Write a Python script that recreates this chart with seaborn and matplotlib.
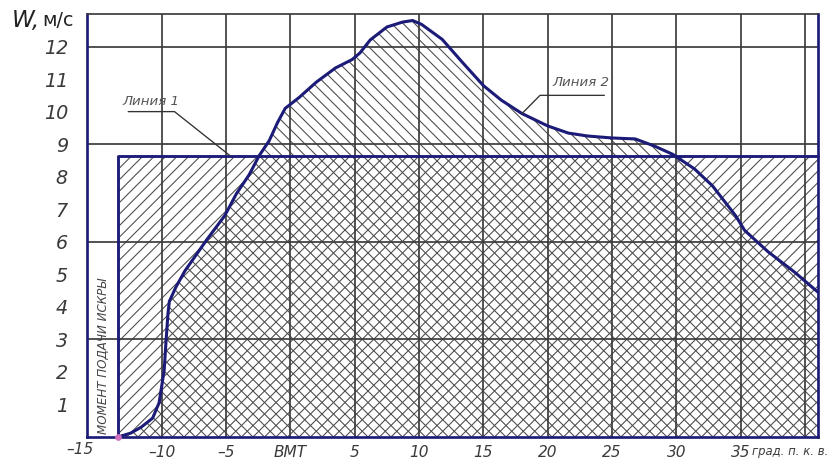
import matplotlib
matplotlib.use("Agg")
import matplotlib.pyplot as plt
import seaborn as sns

# crank angle (deg) and speed W (m/s)
angle = [-13.4, -12.4, -11.6, -10.7, -10.2, -10.0, -9.8, -9.65, -9.5, -9.4, -8.9, -8.2,
         -6.5, -5.1, -4.2, -3.2, -2.4, -1.65, -1.0, -0.4, 0.7, 2.0, 3.5, 4.8, 5.4,
         6.2, 7.5, 8.7, 9.5, 10.2, 11.8, 13.4, 15.0, 16.4, 18.0, 20.0, 21.6, 23.1,
         25.0, 26.8, 28.3, 29.7, 31.4, 32.8, 34.6, 35.3, 37.1, 39.2, 41.0]
speed = [0.0, 0.12, 0.3, 0.58, 1.05, 1.55, 2.07, 3.0, 3.83, 4.17, 4.6, 5.1,
         6.06, 6.8, 7.47, 8.06, 8.66, 9.1, 9.66, 10.1, 10.44, 10.9, 11.34, 11.6, 11.8,
         12.2, 12.6, 12.75, 12.8, 12.68, 12.22, 11.5, 10.8, 10.35, 9.94, 9.56, 9.34, 9.25,
         9.19, 9.16, 8.94, 8.69, 8.24, 7.72, 6.8, 6.35, 5.7, 5.06, 4.45]

spark_angle = -13.4   # момент подачи искры
line1_level = 8.65    # Линия 1

xticks = [-10, -5, 0, 5, 10, 15, 20, 25, 30, 35]
xlabels = ["–10", "–5", "ВМТ", "5", "10", "15", "20", "25", "30", "35"]
yticks = list(range(1, 13))

navy = "#1c1c78"
txt = "#3a3a3a"
xmin, xmax = -15.8, 41.0

sns.set_theme(style="white")
plt.rcParams["font.family"] = ["DejaVu Sans"]
plt.rcParams["hatch.linewidth"] = 0.55

dpi = 138
fig = plt.figure(figsize=(831 / dpi, 462 / dpi), dpi=dpi)
ax = fig.add_axes([87 / 831, 25 / 462, (818 - 87) / 831, (437 - 14) / 462])

# hatched areas
ax.fill_between(angle, speed, 0, facecolor="none", edgecolor="#4a4a4a",
                hatch="\\\\\\\\", linewidth=0, zorder=1)
ax.fill_between([spark_angle, xmax], 0, line1_level, facecolor="none",
                edgecolor="#4a4a4a", hatch="////", linewidth=0, zorder=1)

# grid
for gx in range(-10, 41, 5):
    ax.axvline(gx, color="#3c3c3c", lw=0.9, zorder=2)
for gy in [3, 6, 9, 12]:
    ax.axhline(gy, color="#3c3c3c", lw=0.9, zorder=2)

# Линия 1 rectangle
ax.plot([spark_angle, spark_angle, xmax], [0, line1_level, line1_level],
        color=navy, lw=1.5, zorder=4, clip_on=False)

# Линия 2 curve
sns.lineplot(x=angle, y=speed, ax=ax, color=navy, lw=1.6, zorder=5)
ax.plot([spark_angle], [0], marker="o", ms=2.5, color="#d070c0", zorder=6, clip_on=False)

ax.set_xlim(xmin, xmax)
ax.set_ylim(0, 13)

ax.set_xticks(xticks)
ax.set_xticklabels(xlabels)
ax.set_xticks(range(-15, 41), minor=True)
ax.set_yticks(yticks + [13])
ax.set_yticklabels([str(v) for v in yticks] + [""])
ax.tick_params(axis="x", which="both", direction="inout", length=8, width=0.9,
               color="#3c3c3c", pad=0, labelsize=8, labelcolor=txt)
ax.tick_params(axis="y", direction="inout", length=12, width=0.9,
               color="#3c3c3c", pad=4, labelsize=10, labelcolor=txt)
for lab in ax.get_xticklabels() + ax.get_yticklabels():
    lab.set_fontstyle("italic")

for side in ["left", "bottom", "right"]:
    ax.spines[side].set_color(navy)
    ax.spines[side].set_linewidth(1.4)
ax.spines["top"].set_color("#3c3c3c")
ax.spines["top"].set_linewidth(0.9)

# extra axis texts
ax.text(xmin - 0.55, -0.15, "–15", ha="center", va="top", fontsize=8,
        style="italic", color=txt, clip_on=False)
ax.text(41.8, -0.25, "град. п. к. в.", ha="right", va="top", fontsize=6.1,
        style="italic", color=txt, clip_on=False)
fig.text(12 / 831, 1 - 20 / 462, "W,", fontsize=12, style="italic",
         color="#222222", va="center", ha="left")
fig.text(42 / 831, 1 - 20 / 462, "м/с", fontsize=10, color="#222222",
         va="center", ha="left")

# Линия 1 / Линия 2 leaders
ax.text(-10.8, 10.3, "Линия 1", ha="center", va="center", fontsize=7,
        style="italic", color="#555555")
ax.plot([-12.6, -9.0, -4.7], [10.0, 10.0, line1_level], color="#333333", lw=0.7, zorder=6)
ax.text(22.6, 10.9, "Линия 2", ha="center", va="center", fontsize=7,
        style="italic", color="#555555")
ax.plot([24.4, 19.4, 18.0], [10.5, 10.5, 9.94], color="#333333", lw=0.7, zorder=6)

ax.text(-14.55, 2.5, "МОМЕНТ ПОДАЧИ ИСКРЫ", rotation=90, ha="center", va="center",
        fontsize=6.2, style="italic", color="#444444")

fig.savefig("out.png", dpi=dpi, facecolor="white")
